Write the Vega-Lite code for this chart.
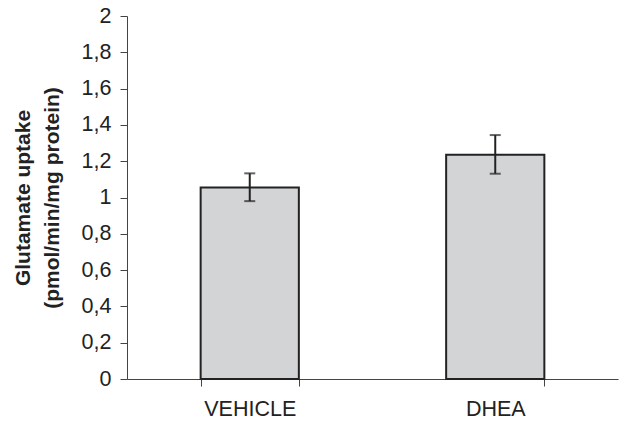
{
  "$schema": "https://vega.github.io/schema/vega-lite/v6.json",
  "width": 491,
  "height": 363,
  "autosize": "none",
  "padding": {"left": 127, "top": 16, "right": 16, "bottom": 48},
  "background": "white",
  "config": {
    "view": {"stroke": null},
    "font": "Liberation Sans"
  },
  "data": {
    "values": [
      {"group": "VEHICLE", "mean": 1.055, "lo": 0.98, "hi": 1.133},
      {"group": "DHEA", "mean": 1.235, "lo": 1.131, "hi": 1.344}
    ]
  },
  "encoding": {
    "x": {
      "field": "group",
      "type": "nominal",
      "sort": ["VEHICLE", "DHEA"],
      "scale": {"paddingInner": 0.6, "paddingOuter": 0.3},
      "axis": {
        "title": null,
        "labelAngle": 0,
        "labelFontSize": 21.5,
        "labelColor": "#222",
        "labelPadding": 12,
        "tickBand": "extent",
        "tickSize": 7,
        "tickColor": "#444",
        "domainColor": "#444",
        "grid": false
      }
    }
  },
  "layer": [
    {
      "mark": {"type": "bar", "fill": "#d3d4d6", "stroke": "#222", "strokeWidth": 2},
      "encoding": {
        "y": {
          "field": "mean",
          "type": "quantitative",
          "scale": {"domain": [0, 2], "nice": false},
          "axis": {
            "title": ["Glutamate uptake", "(pmol/min/mg protein)"],
            "titleFontSize": 21,
            "titleFontWeight": "bold",
            "titleColor": "#222",
            "titleLineHeight": 29,
            "titlePadding": 19,
            "values": [0, 0.2, 0.4, 0.6, 0.8, 1, 1.2, 1.4, 1.6, 1.8, 2],
            "tickCount": 20,
            "labelExpr": "replace(format(datum.value, '.1~f'), '.', ',')",
            "labelOverlap": false,
            "labelFontSize": 21.5,
            "labelColor": "#222",
            "labelPadding": 9,
            "tickSize": 7,
            "tickColor": "#444",
            "domainColor": "#444",
            "grid": false
          }
        }
      }
    },
    {
      "mark": {"type": "rule", "stroke": "#222", "strokeWidth": 2},
      "encoding": {
        "y": {"field": "lo", "type": "quantitative"},
        "y2": {"field": "hi"}
      }
    },
    {
      "mark": {"type": "tick", "color": "#222", "thickness": 2, "size": 11, "orient": "horizontal"},
      "encoding": {
        "y": {"field": "lo", "type": "quantitative"}
      }
    },
    {
      "mark": {"type": "tick", "color": "#222", "thickness": 2, "size": 11, "orient": "horizontal"},
      "encoding": {
        "y": {"field": "hi", "type": "quantitative"}
      }
    }
  ]
}
